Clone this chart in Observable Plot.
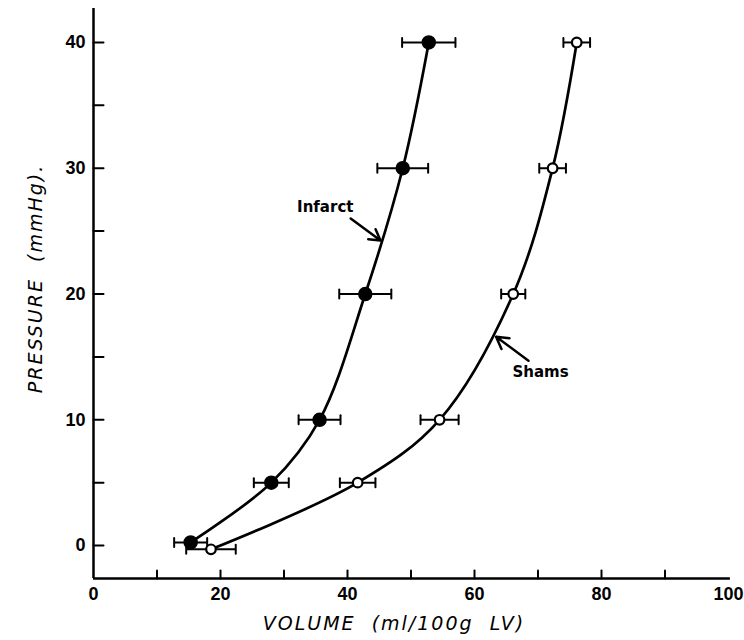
<!DOCTYPE html>
<html><head><meta charset="utf-8">
<script src="https://cdn.jsdelivr.net/npm/d3@7"></script>
<script src="https://cdn.jsdelivr.net/npm/@observablehq/plot@0.6"></script>
<style>body{margin:0;background:#fff}</style>
</head><body><div id="chart"></div>
<script>
// Infarct group (filled circles)
const infarctPressure = [0.25, 5, 10, 20, 30, 40];
const infarctVolume = [15.3, 28.0, 35.6, 42.8, 48.7, 52.8];
const infarctSE = [2.6, 2.75, 3.3, 4.1, 4.0, 4.2];
// Sham group (open circles)
const shamPressure = [-0.3, 5, 10, 20, 30, 40];
const shamVolume = [18.5, 41.6, 54.5, 66.1, 72.3, 76.1];
const shamSE = [3.9, 2.8, 3.0, 1.9, 2.1, 2.1];
// Axes
const xTickValues = [10, 20, 30, 40, 50, 60, 70, 80, 90];
const xTickLabels = [0, 20, 40, 60, 80, 100];
const yTickValues = [0, 5, 10, 15, 20, 25, 30, 35, 40];
const yTickLabels = [0, 10, 20, 30, 40];
const xDomain = [0, 100];
const yDomain = [-2.62, 42.7];
const xTitle = "VOLUME  (ml/100g  LV)";
const yTitle = "PRESSURE  (mmHg).";
// Annotation labels and arrows (data units)
const labelText = ["Infarct", "Shams"];
const labelX = [36.5, 70.4];
const labelY = [26.9, 13.8];
const arrowX1 = [40.5, 68.5];
const arrowY1 = [26.0, 14.7];
const arrowX2 = [45.2, 63.4];
const arrowY2 = [24.25, 16.6];

const infarct = infarctPressure.map((p, i) => ({p, v: infarctVolume[i], se: infarctSE[i]}));
const sham = shamPressure.map((p, i) => ({p, v: shamVolume[i], se: shamSE[i]}));
const both = infarct.concat(sham);
const annotations = labelText.map((t, i) => ({t, x: labelX[i], y: labelY[i], x1: arrowX1[i], y1: arrowY1[i], x2: arrowX2[i], y2: arrowY2[i]}));

const FONT = "DejaVu Sans";
const NUMFONT = "Liberation Sans";
const upShape = {draw(ctx, l) { ctx.moveTo(0, 0); ctx.lineTo(0, -l); }};
const capShape = {draw(ctx, l) { ctx.moveTo(0, -l / 2); ctx.lineTo(0, l / 2); }};

const plot = Plot.plot({
  width: 744,
  height: 640,
  marginLeft: 93,
  marginRight: 16,
  marginTop: 8,
  marginBottom: 62,
  x: {domain: xDomain, axis: null},
  y: {domain: yDomain, axis: null},
  style: {background: "#fff", color: "#000"},
  marks: [
    // axis lines
    Plot.ruleX([xDomain[0]], {y1: yDomain[0], y2: yDomain[1], stroke: "#000", strokeWidth: 2.5}),
    Plot.ruleY([yDomain[0]], {x1: xDomain[0], x2: xDomain[1] + 0.3, stroke: "#000", strokeWidth: 2.5}),
    // inward ticks
    Plot.vector(xTickValues, {x: d => d, y: yDomain[0], length: 8, rotate: 0, anchor: "start", shape: upShape, stroke: "#000", strokeWidth: 2}),
    Plot.vector(yTickValues, {x: xDomain[0], y: d => d, length: 10, rotate: 90, anchor: "start", shape: upShape, stroke: "#000", strokeWidth: 2}),
    // tick labels
    Plot.text(xTickLabels, {x: d => d, y: yDomain[0], dy: 16, text: d => String(d), fontFamily: NUMFONT, fontWeight: "bold", fontSize: 18, fill: "#000"}),
    Plot.text(yTickLabels, {x: xDomain[0], y: d => d, dx: -8, textAnchor: "end", text: d => String(d), fontFamily: NUMFONT, fontWeight: "bold", fontSize: 18, fill: "#000"}),
    // axis titles
    Plot.text([xTitle], {frameAnchor: "bottom", dx: -17, dy: 51, textAnchor: "middle", text: d => d, fontFamily: FONT, fontStyle: "italic", fontSize: 19, fill: "#000"}),
    Plot.text([yTitle], {frameAnchor: "left", dx: -58, dy: -15, textAnchor: "middle", rotate: -90, text: d => d, fontFamily: FONT, fontStyle: "italic", fontSize: 19, fill: "#000"}),
    // curves
    Plot.line(infarct, {x: "v", y: "p", curve: "catmull-rom", stroke: "#000", strokeWidth: 2.7}),
    Plot.line(sham, {x: "v", y: "p", curve: "catmull-rom", stroke: "#000", strokeWidth: 2.7}),
    // error bars
    Plot.link(both, {x1: d => d.v - d.se, x2: d => d.v + d.se, y1: "p", y2: "p", stroke: "#000", strokeWidth: 2}),
    Plot.vector(both, {x: d => d.v - d.se, y: "p", length: 9, anchor: "start", shape: capShape, stroke: "#000", strokeWidth: 2}),
    Plot.vector(both, {x: d => d.v + d.se, y: "p", length: 9, anchor: "start", shape: capShape, stroke: "#000", strokeWidth: 2}),
    // points
    Plot.dot(infarct, {x: "v", y: "p", r: 6.5, fill: "#000", stroke: "#000"}),
    Plot.dot(sham, {x: "v", y: "p", r: 4.8, fill: "#fff", stroke: "#000", strokeWidth: 2.2}),
    // annotations
    Plot.arrow(annotations, {x1: "x1", y1: "y1", x2: "x2", y2: "y2", stroke: "#000", strokeWidth: 2.5, headLength: 9}),
    Plot.text(annotations, {x: "x", y: "y", text: "t", fontFamily: FONT, fontWeight: "bold", fontSize: 15, fill: "#000"})
  ]
});
document.getElementById("chart").append(plot);
d3.select(plot).selectAll("text").filter(function() { return this.textContent === xTitle || this.textContent === yTitle; })
  .style("white-space", "pre").style("letter-spacing", "2px");
</script>
</body></html>
